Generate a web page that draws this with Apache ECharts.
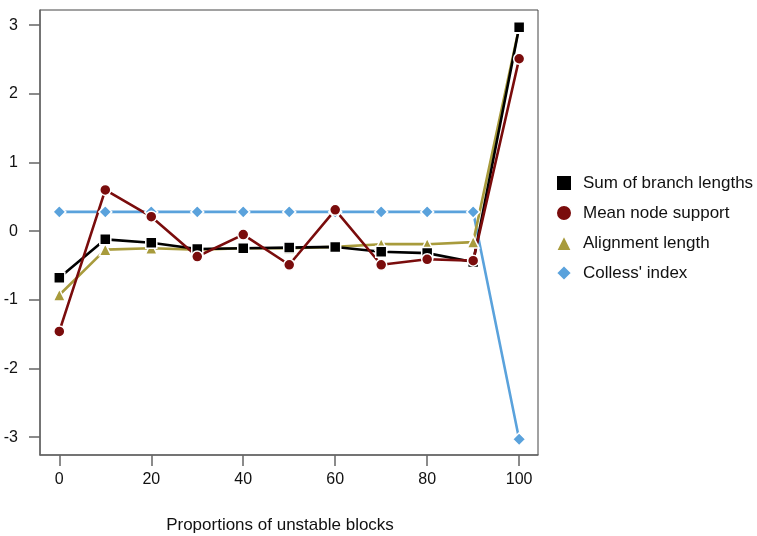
<!DOCTYPE html>
<html><head><meta charset="utf-8">
<script src="https://cdn.jsdelivr.net/npm/echarts@6/dist/echarts.min.js"></script>
<style>html,body{margin:0;padding:0;background:#fff}#c{width:757px;height:536px}</style>
</head><body><div id="c"></div>
<script>
const proportions = [0, 10, 20, 30, 40, 50, 60, 70, 80, 90, 100];
const sumBranchLengths = [-0.68, -0.12, -0.17, -0.26, -0.25, -0.24, -0.23, -0.30, -0.32, -0.45, 2.97];
const meanNodeSupport = [-1.46, 0.60, 0.21, -0.37, -0.05, -0.49, 0.31, -0.49, -0.41, -0.43, 2.51];
const alignmentLength = [-0.93, -0.27, -0.25, -0.27, -0.25, -0.25, -0.23, -0.19, -0.19, -0.16, 2.97];
const collessIndex = [0.28, 0.28, 0.28, 0.28, 0.28, 0.28, 0.28, 0.28, 0.28, 0.28, -3.03];
const xTicks = [0, 20, 40, 60, 80, 100];
const yTicks = [-3, -2, -1, 0, 1, 2, 3];

const font = '"Liberation Sans", Arial, Helvetica, sans-serif';
function pts(v){ return proportions.map((x,i)=>[x, v[i]]); }
function mk(name, vals, color, symbol, size){
  return {
    name, type:'line', data: pts(vals), symbol, symbolSize: size,
    lineStyle:{color, width:2.6},
    itemStyle:{color, borderColor:'#fff', borderWidth:1.5},
    emphasis:{disabled:true}, animation:false, z: 3
  };
}
const chart = echarts.init(document.getElementById('c'));
chart.setOption({
  animation:false,
  backgroundColor:'#fff',
  grid:{left:40, right:219, top:10, bottom:81, show:true, borderColor:'#444', borderWidth:1,
        outerBoundsMode:'none', containLabel:false},
  legend:{
    orient:'vertical', left:555, top:174, padding:0, itemGap:12, itemWidth:16, itemHeight:16,
    textStyle:{fontFamily:font, fontSize:17, color:'#111', padding:[0,0,0,6]},
    data:[
      {name:'Sum of branch lengths', icon:'rect'},
      {name:'Mean node support', icon:'circle'},
      {name:'Alignment length', icon:'triangle'},
      {name:"Colless' index", icon:'diamond'}
    ]
  },
  xAxis:{
    type:'value', min:-4.2, max:104.1,
    name:'Proportions of unstable blocks', nameLocation:'middle', nameGap:62,
    nameTextStyle:{fontFamily:font, fontSize:17, color:'#111', padding:[0,18,0,0]},
    axisLine:{show:true, onZero:false, lineStyle:{color:'#666', width:1.5}},
    axisTick:{show:true, length:11, customValues:xTicks, lineStyle:{color:'#666', width:1.5}},
    axisLabel:{customValues:xTicks, fontFamily:font, fontSize:16, color:'#111', margin:17},
    splitLine:{show:false}
  },
  yAxis:{
    type:'value', min:-3.26, max:3.22,
    axisLine:{show:true, onZero:false, lineStyle:{color:'#666', width:1.5}},
    axisTick:{show:true, length:11, customValues:yTicks, lineStyle:{color:'#666', width:1.5}},
    axisLabel:{customValues:yTicks, fontFamily:font, fontSize:16, color:'#111', margin:22},
    splitLine:{show:false}
  },
  series:[
    mk("Colless' index", collessIndex, '#5aa2dc', 'diamond', 13),
    mk('Alignment length', alignmentLength, '#a89b3c', 'triangle', 12),
    mk('Sum of branch lengths', sumBranchLengths, '#000000', 'rect', 11),
    mk('Mean node support', meanNodeSupport, '#7a0c0c', 'circle', 11)
  ]
});
</script></body></html>
